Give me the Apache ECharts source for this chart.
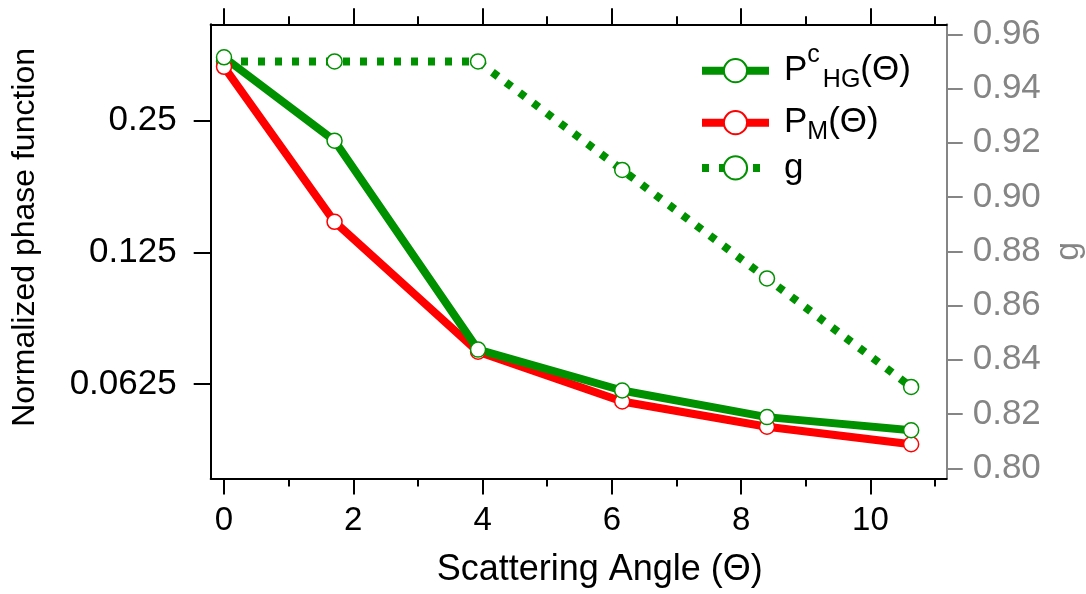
<!DOCTYPE html>
<html>
<head>
<meta charset="utf-8">
<script src="https://cdn.jsdelivr.net/npm/echarts@6/dist/echarts.min.js"></script>
<style>
  html, body { margin: 0; padding: 0; background: #fff; }
  #main { width: 1086px; height: 594px; }
</style>
</head>
<body>
<div id="main"></div>
<script>
// scattering angles (x) and the three curves
var angles = [0, 1.71, 3.93, 6.16, 8.40, 10.63];
var phgValues = [0.349, 0.225, 0.0749, 0.0604, 0.0525, 0.0490];
var pmValues = [0.332, 0.1468, 0.0741, 0.0570, 0.0499, 0.0455];
var gValues = [0.95, 0.95, 0.95, 0.91, 0.87, 0.83];

// tick labels
var xMajorTicks = [0, 2, 4, 6, 8, 10];
var xMinorTicks = [1, 3, 5, 7, 9, 11];
var leftTicks = [0.0625, 0.125, 0.25];
var gMin = 0.80, gMax = 0.96, gStep = 0.02;

var GREEN = '#009100';
var RED = '#ff0000';
var GRAY = '#858585';
var FONT = 'Liberation Sans';
var X_MIN = -0.206, X_MAX = 11.18;

function pairs(xs, ys) {
    return xs.map(function (x, i) { return [x, ys[i]]; });
}

// x axes: major + minor ticks, bottom and top (mirror)
function xAxisDef(pos, ticks, len, withLine, withLabel) {
    return {
        type: 'value', position: pos, min: X_MIN, max: X_MAX,
        splitLine: { show: false },
        axisLine: { show: withLine, onZero: false, lineStyle: { color: '#000', width: 2 } },
        axisTick: { show: true, length: len, customValues: ticks, lineStyle: { color: '#000', width: 2 } },
        axisLabel: {
            show: withLabel, customValues: ticks, margin: 26,
            color: '#000', fontSize: 33, fontFamily: FONT
        }
    };
}

var xMain = xAxisDef('bottom', xMajorTicks, 16, true, true);
xMain.name = 'Scattering Angle (\u0398)';
xMain.nameLocation = 'middle';
xMain.nameGap = 74;
xMain.nameTextStyle = { color: '#000', fontSize: 36, fontFamily: FONT, padding: [0, 0, 0, 42] };

var richStyles = {
    a: { fontSize: 35, lineHeight: 56, fontFamily: FONT, color: '#000', padding: [0, 0, 0, 10] },
    b: { fontSize: 35, lineHeight: 56, fontFamily: FONT, color: '#000' },
    sup: { fontSize: 25, lineHeight: 20, verticalAlign: 'top', fontFamily: FONT, color: '#000', padding: [0, 3, 0, 0] },
    sub: { fontSize: 25, lineHeight: 20, verticalAlign: 'bottom', padding: [0, 0, 6, 0], fontFamily: FONT, color: '#000' }
};

function legendDef(name, top, dash) {
    return {
        data: [name], left: 698, top: top, padding: 0,
        itemWidth: 67, itemHeight: 29,
        lineStyle: { width: 8, type: dash },
        formatter: function (n) {
            if (n === 'PHG') return '{a|P}{sup|c}{sub|HG}{b|(\u0398)}';
            if (n === 'PM') return '{a|P}{sub|M}{b|(\u0398)}';
            return '{a|g}';
        },
        textStyle: { rich: richStyles }
    };
}

var chart = echarts.init(document.getElementById('main'));

chart.setOption({
    backgroundColor: '#fff',
    animation: false,
    grid: [
        // main plot frame
        { left: 210.7, right: 139.3, top: 24.3, bottom: 115.5, outerBoundsMode: 'none' },
        // g axis: same width, spans 0.80 .. 0.96 only
        { left: 210.7, right: 139.3, top: 34.3, bottom: 125.7, outerBoundsMode: 'none' }
    ],
    legend: [
        legendDef('PHG', 42.7, 'solid'),
        legendDef('PM', 105.2, 'solid'),
        legendDef('g', 150.4, [7, 10])
    ],
    xAxis: [
        xMain,
        xAxisDef('bottom', xMinorTicks, 8, false, false),
        xAxisDef('top', xMajorTicks, 16, true, false),
        xAxisDef('top', xMinorTicks, 8, false, false),
        { type: 'value', gridIndex: 1, min: X_MIN, max: X_MAX, show: false }
    ],
    yAxis: [
        {
            type: 'log', logBase: 2, position: 'left', min: 0.038, max: 0.4153,
            name: 'Normalized phase function', nameLocation: 'middle', nameGap: 170,
            nameTextStyle: { color: '#000', fontSize: 32, fontFamily: FONT, padding: [0, 0, 0, 28] },
            splitLine: { show: false },
            axisLine: { show: true, onZero: false, lineStyle: { color: '#000', width: 2 } },
            axisTick: { show: true, length: 17, customValues: leftTicks, lineStyle: { color: '#000', width: 2 } },
            axisLabel: {
                customValues: leftTicks, margin: 34, color: '#000', fontSize: 35, fontFamily: FONT,
                formatter: function (v) { return String(v); }
            }
        },
        {
            // right frame line only
            type: 'value', position: 'right', min: 0, max: 1,
            splitLine: { show: false },
            axisLine: { show: true, onZero: false, lineStyle: { color: GRAY, width: 2 } },
            axisTick: { show: false },
            axisLabel: { show: false }
        },
        {
            type: 'value', gridIndex: 1, position: 'right', min: gMin, max: gMax, interval: gStep,
            name: 'g', nameLocation: 'middle', nameGap: 100, nameRotate: 90,
            nameTextStyle: { color: GRAY, fontSize: 34, fontFamily: FONT },
            splitLine: { show: false },
            axisLine: { show: false, onZero: false },
            axisTick: { show: true, length: 16, lineStyle: { color: GRAY, width: 2 } },
            axisLabel: {
                margin: 26, color: GRAY, fontSize: 35, fontFamily: FONT,
                formatter: function (v) { return v.toFixed(2); }
            }
        }
    ],
    series: [
        {
            name: 'g', type: 'line', xAxisIndex: 4, yAxisIndex: 2, data: pairs(angles, gValues),
            symbol: 'circle', symbolSize: 15,
            lineStyle: { color: GREEN, width: 8, type: [7, 10] },
            itemStyle: { color: '#fff', borderColor: GREEN, borderWidth: 1.5 }
        },
        {
            name: 'PM', type: 'line', data: pairs(angles, pmValues),
            symbol: 'circle', symbolSize: 15,
            lineStyle: { color: RED, width: 8 },
            itemStyle: { color: '#fff', borderColor: RED, borderWidth: 1.5 }
        },
        {
            name: 'PHG', type: 'line', data: pairs(angles, phgValues),
            symbol: 'circle', symbolSize: 15,
            lineStyle: { color: GREEN, width: 8 },
            itemStyle: { color: '#fff', borderColor: GREEN, borderWidth: 1.5 }
        }
    ]
});
</script>
</body>
</html>
